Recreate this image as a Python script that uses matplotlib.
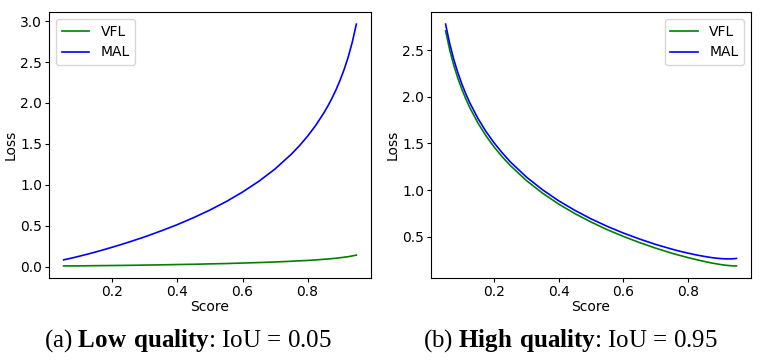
import matplotlib
matplotlib.use("Agg")
import matplotlib.pyplot as plt

# Score values (x axis) shared by all curves
score = [0.05, 0.0625, 0.075, 0.0875, 0.10, 0.1125, 0.125, 0.15, 0.175, 0.20, 0.225,
         0.25, 0.30, 0.35, 0.40, 0.45, 0.50, 0.55, 0.60, 0.65, 0.70, 0.75, 0.775,
         0.80, 0.825, 0.85, 0.8625, 0.875, 0.8875, 0.90, 0.9125, 0.925, 0.9375, 0.95]

# (a) low quality, IoU = 0.05
vfl_low = [0.010, 0.010, 0.010, 0.010, 0.011, 0.011, 0.012, 0.013, 0.014, 0.015, 0.016,
           0.017, 0.020, 0.023, 0.027, 0.030, 0.035, 0.039, 0.045, 0.051, 0.058, 0.067, 0.072,
           0.077, 0.083, 0.091, 0.095, 0.099, 0.104, 0.110, 0.116, 0.123, 0.132, 0.142]
mal_low = [0.084, 0.095, 0.106, 0.118, 0.130, 0.143, 0.155, 0.182, 0.210, 0.239, 0.269,
           0.300, 0.366, 0.438, 0.515, 0.600, 0.693, 0.796, 0.912, 1.043, 1.194, 1.374, 1.478,
           1.594, 1.726, 1.878, 1.964, 2.057, 2.161, 2.278, 2.410, 2.562, 2.743, 2.963]

# (b) high quality, IoU = 0.95
vfl_high = [2.706, 2.506, 2.341, 2.203, 2.084, 1.978, 1.883, 1.720, 1.582, 1.463, 1.358,
            1.265, 1.103, 0.968, 0.851, 0.749, 0.659, 0.577, 0.505, 0.439, 0.379, 0.325, 0.301,
            0.278, 0.257, 0.237, 0.228, 0.219, 0.212, 0.204, 0.198, 0.193, 0.190, 0.189]
mal_high = [2.778, 2.573, 2.404, 2.263, 2.140, 2.032, 1.935, 1.769, 1.628, 1.507, 1.401,
            1.304, 1.141, 1.004, 0.886, 0.784, 0.693, 0.613, 0.541, 0.477, 0.419, 0.369, 0.346,
            0.326, 0.307, 0.291, 0.284, 0.277, 0.272, 0.268, 0.265, 0.264, 0.265, 0.269]

plt.rcParams['mathtext.fontset'] = 'custom'
plt.rcParams['mathtext.rm'] = 'Liberation Serif'
plt.rcParams['mathtext.bf'] = 'Liberation Serif:bold'

fig = plt.figure(figsize=(7.61, 3.61), dpi=100)
ax1 = fig.add_axes([0.0644, 0.2299, 0.4231, 0.7368])
ax2 = fig.add_axes([0.5664, 0.2299, 0.4205, 0.7368])

ax1.plot(score, vfl_low, color='green', lw=1.2, label='VFL')
ax1.plot(score, mal_low, color='blue', lw=1.2, label='MAL')
ax1.legend(loc='upper left', fontsize=10)

ax2.plot(score, vfl_high, color='green', lw=1.2, label='VFL')
ax2.plot(score, mal_high, color='blue', lw=1.2, label='MAL')
ax2.legend(loc='upper right', fontsize=10)

for ax in (ax1, ax2):
    ax.set_xlabel('Score', fontsize=10, labelpad=1)
    ax.set_ylabel('Loss', fontsize=10, labelpad=2)
    ax.tick_params(labelsize=10, length=3, pad=2)

# captions
fig.text(0.247, 0.057, r'(a) $\mathbf{Low\ quality}$: IoU = 0.05',
         ha='center', va='center', fontsize=18, family='Liberation Serif')
fig.text(0.75, 0.057, r'(b) $\mathbf{High\ quality}$: IoU = 0.95',
         ha='center', va='center', fontsize=18, family='Liberation Serif')

fig.savefig('out.png', dpi=100)
